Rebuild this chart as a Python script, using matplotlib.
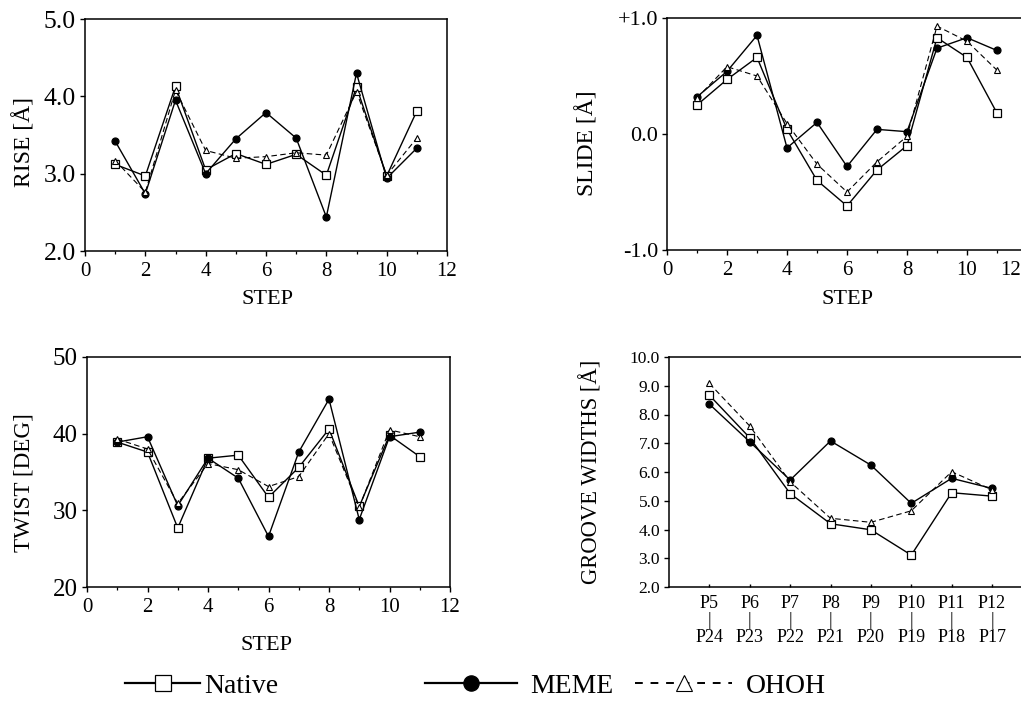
import matplotlib
matplotlib.use('Agg')
import matplotlib.pyplot as plt
from matplotlib.lines import Line2D
from matplotlib.transforms import ScaledTranslation

plt.rcParams['font.family'] = ['Liberation Serif', 'DejaVu Serif']

# ---------------- data ----------------
steps = [1, 2, 3, 4, 5, 6, 7, 8, 9, 10, 11]

rise_native = [3.12, 2.97, 4.13, 3.05, 3.26, 3.12, 3.25, 2.98, 4.12, 2.97, 3.81]
rise_meme   = [3.42, 2.74, 3.95, 3.00, 3.45, 3.79, 3.46, 2.44, 4.30, 2.94, 3.33]
rise_ohoh   = [3.17, 2.76, 4.08, 3.30, 3.20, 3.22, 3.27, 3.24, 4.06, 2.98, 3.46]

slide_native = [0.25, 0.47, 0.66, 0.04, -0.40, -0.62, -0.31, -0.10, 0.83, 0.66, 0.18]
slide_meme   = [0.32, 0.54, 0.85, -0.12, 0.10, -0.28, 0.04, 0.02, 0.74, 0.83, 0.72]
slide_ohoh   = [0.31, 0.58, 0.50, 0.09, -0.26, -0.50, -0.24, -0.02, 0.93, 0.80, 0.55]

twist_native = [38.9, 37.6, 27.7, 36.8, 37.2, 31.7, 35.6, 40.6, 30.5, 39.8, 37.0]
twist_meme   = [38.9, 39.6, 30.6, 36.8, 34.2, 26.6, 37.6, 44.5, 28.8, 39.6, 40.2]
twist_ohoh   = [39.3, 38.0, 30.9, 36.1, 35.3, 33.1, 34.4, 40.0, 30.4, 40.5, 39.6]

groove_top    = ['P5', 'P6', 'P7', 'P8', 'P9', 'P10', 'P11', 'P12']
groove_bottom = ['P24', 'P23', 'P22', 'P21', 'P20', 'P19', 'P18', 'P17']
groove_native = [8.67, 7.19, 5.25, 4.20, 3.99, 3.11, 5.28, 5.16]
groove_meme   = [8.36, 7.05, 5.72, 7.08, 6.24, 4.91, 5.78, 5.43]
groove_ohoh   = [9.08, 7.60, 5.66, 4.39, 4.25, 4.65, 6.01, 5.38]

series_names = ['Native', 'MEME', 'OHOH']

# ---------------- styles ----------------
W, H = 1021, 715
styles = {
    'Native': dict(color='black', lw=1.0, ls='-', marker='s', ms=5.5,
                   mfc='white', mec='black', mew=0.9),
    'MEME':   dict(color='black', lw=1.0, ls='-', marker='o', ms=5.0,
                   mfc='black', mec='black', mew=0.9),
    'OHOH':   dict(color='black', lw=0.8, ls=(0, (5, 3)), marker='^', ms=4.5,
                   mfc='white', mec='black', mew=0.8),
}

fig = plt.figure(figsize=(W / 100, H / 100), dpi=100)


def add_axes_px(l, t, r, b):
    return fig.add_axes([l / W, 1 - b / H, (r - l) / W, (b - t) / H])


def place_labels(ax, rect, ylabel, ycx, ycy, ysize, xlabel=None, xcx=None, xcy=None):
    l, t, r, b = rect
    ax.set_ylabel(ylabel, fontsize=ysize, va='center', ha='center')
    ax.yaxis.set_label_coords((ycx - l) / (r - l), (b - ycy) / (b - t))
    if xlabel:
        ax.set_xlabel(xlabel, fontsize=16, va='center', ha='center')
        ax.xaxis.set_label_coords((xcx - l) / (r - l), (b - xcy) / (b - t))


def style_axes(ax, xsize=15, ysize=18):
    for s in ax.spines.values():
        s.set_linewidth(1.1)
    ax.tick_params(axis='x', which='major', direction='out', length=3.5, width=1,
                   pad=4.3, labelsize=xsize)
    ax.tick_params(axis='x', which='minor', direction='out', length=2.5, width=0.9)
    ax.tick_params(axis='y', which='major', direction='out', length=3.5, width=1,
                   pad=3, labelsize=ysize)


def draw_series(ax, x, ys):
    for name, y in zip(series_names, ys):
        ax.plot(x, y, **styles[name])


# ---------- RISE ----------
r1 = (85, 19, 447, 251)
ax1 = add_axes_px(*r1)
draw_series(ax1, steps, [rise_native, rise_meme, rise_ohoh])
ax1.set_xlim(0, 12)
ax1.set_ylim(2.0, 5.0)
ax1.set_xticks(range(0, 13, 2))
ax1.set_xticks(range(1, 12, 2), minor=True)
ax1.set_yticks([2.0, 3.0, 4.0, 5.0])
ax1.set_yticklabels(['2.0', '3.0', '4.0', '5.0'])
style_axes(ax1, 15, 18.5)
place_labels(ax1, r1, 'RISE [Å]', 24, 142, 17, 'STEP', 267, 300)

# ---------- SLIDE ----------
r2 = (667, 18, 1027, 250)
ax2 = add_axes_px(*r2)
draw_series(ax2, steps, [slide_native, slide_meme, slide_ohoh])
ax2.set_xlim(0, 12)
ax2.set_ylim(-1.0, 1.0)
ax2.set_xticks(range(0, 13, 2))
ax2.set_xticks(range(1, 12, 2), minor=True)
ax2.set_yticks([-1.0, 0.0, 1.0])
ax2.set_yticklabels(['-1.0', '0.0', '+1.0'])
style_axes(ax2, 15, 16)
place_labels(ax2, r2, 'SLIDE [Å]', 587, 143, 17, 'STEP', 847, 300)

# ---------- TWIST ----------
r3 = (87, 357, 450, 587)
ax3 = add_axes_px(*r3)
draw_series(ax3, steps, [twist_native, twist_meme, twist_ohoh])
ax3.set_xlim(0, 12)
ax3.set_ylim(20, 50)
ax3.set_xticks(range(0, 13, 2))
ax3.set_xticks(range(1, 12, 2), minor=True)
ax3.set_yticks([20, 30, 40, 50])
style_axes(ax3, 15, 18)
place_labels(ax3, r3, 'TWIST [DEG]', 24, 483, 16.7, 'STEP', 267, 645)

# ---------- GROOVE WIDTHS ----------
r4 = (669, 357, 1027, 587)
ax4 = add_axes_px(*r4)
gx = list(range(1, len(groove_top) + 1))
draw_series(ax4, gx, [groove_native, groove_meme, groove_ohoh])
ax4.set_xlim(0, (1027 - 669.7) / 40.3)
ax4.set_ylim(2.0, 10.0)
ax4.set_xticks(gx)
ax4.set_xticklabels([f'{a}\n|\n{b}' for a, b in zip(groove_top, groove_bottom)],
                    linespacing=1.0)
ax4.set_yticks([2, 3, 4, 5, 6, 7, 8, 9, 10])
ax4.set_yticklabels([f'{v:.1f}' for v in range(2, 11)])
style_axes(ax4, 13, 12.5)
ax4.tick_params(axis='x', direction='in', length=2.5, pad=6)
place_labels(ax4, r4, 'GROOVE WIDTHS [Å]', 591, 472, 16.3)

# ---------- legend ----------
ly = 1 - 686 / H
leg_specs = [
    ('Native', 125, 2.7, dict(ms=12)),
    ('MEME', 425, 3.3, dict(ms=11)),
    ('OHOH', 635, 3.5, dict(ms=11)),
]
for name, x0, hl, extra in leg_specs:
    st = dict(styles[name])
    st.update(extra)
    st['lw'] = 1.6 if name != 'OHOH' else 1.4
    if name == 'OHOH':
        st['ls'] = (0, (4, 4))
    h = Line2D([], [], **st)
    fig.legend(handles=[h], labels=[name], loc='center left',
               bbox_to_anchor=(x0 / W, ly), frameon=False, fontsize=20,
               handlelength=hl, handletextpad=0.5 if name != 'Native' else 0.15,
               borderpad=0, borderaxespad=0, numpoints=1)

# keep the last SLIDE tick label inside the picture, as in the reference
fig.canvas.draw()
for lab in ax2.get_xticklabels():
    if lab.get_text() == '12':
        lab.set_transform(lab.get_transform() +
                          ScaledTranslation(-0.16, 0, fig.dpi_scale_trans))

fig.savefig('out.png', dpi=100)
